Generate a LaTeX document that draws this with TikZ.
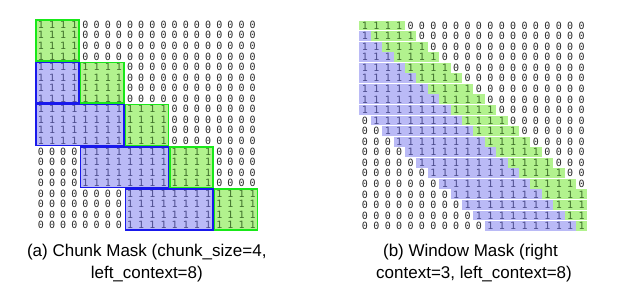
\documentclass[tikz,border=0pt]{standalone}
\usepackage{fontspec}
\setmainfont{Liberation Sans}
\newfontfamily\digitfont{DejaVu Sans Mono}
\definecolor{bfill}{RGB}{186,186,246}
\definecolor{gfill}{RGB}{178,242,142}
\definecolor{bline}{RGB}{25,25,235}
\definecolor{gline}{RGB}{25,232,25}
\definecolor{bdig}{RGB}{75,75,140}
\definecolor{gdig}{RGB}{62,112,42}
\definecolor{zdig}{RGB}{40,40,40}
\tikzset{
  digit/.style={inner sep=0pt, anchor=center, font=\digitfont\fontsize{10}{11}\selectfont},
  bluebox/.style={draw=bline, line width=1.5pt},
  greenbox/.style={draw=gline, line width=1.5pt},
  caption/.style={anchor=base, inner sep=0pt, font=\fontsize{17}{20}\selectfont}
}
\begin{document}
\begin{tikzpicture}[x=1pt,y=-1pt]
\useasboundingbox (0,0) rectangle (623,291);
\fill[white] (0,0) rectangle (623,291);
% ---------- (a) chunk mask ----------
\def\LX{35.3}\def\LW{11.15}\def\LY{19.5}\def\LH{10.55}
\foreach \ra/\ca/\rb/\cb in {4/0/8/4, 8/0/12/8, 12/4/16/12, 16/8/20/16}
  \fill[bfill] ({\LX+\LW*\ca},{\LY+\LH*\ra}) rectangle ({\LX+\LW*\cb},{\LY+\LH*\rb});
\foreach \k in {0,...,4}
  \fill[gfill] ({\LX+\LW*4*\k},{\LY+\LH*4*\k}) rectangle ({\LX+\LW*4*(\k+1)},{\LY+\LH*4*(\k+1)});
\foreach \i in {0,...,19}{
  \foreach \j in {0,...,19}{
    \pgfmathtruncatemacro\r{floor(\i/4)}
    \pgfmathtruncatemacro\c{floor(\j/4)}
    \pgfmathtruncatemacro\kind{(\c==\r) ? 2 : ((\c<\r && \c>=\r-2) ? 1 : 0)}
    \ifcase\kind\def\dc{zdig}\or\def\dc{bdig}\or\def\dc{gdig}\fi
    \node[digit, text=\dc] (L-\i-\j) at ({\LX+\LW*(\j+0.5)},{\LY+\LH*(\i+0.5)}) {\ifnum\kind=0 0\else 1\fi};
  }
}
\foreach \ra/\ca/\rb/\cb in {4/0/8/4, 8/0/12/8, 12/4/16/12, 16/8/20/16}
  \draw[bluebox] ({\LX+\LW*\ca+0.75},{\LY+\LH*\ra+0.75}) rectangle ({\LX+\LW*\cb-0.75},{\LY+\LH*\rb-0.75});
\foreach \k in {0,...,4}
  \draw[greenbox] ({\LX+\LW*4*\k+0.75},{\LY+\LH*4*\k+0.75}) rectangle ({\LX+\LW*4*(\k+1)-0.75},{\LY+\LH*4*(\k+1)-0.75});
% ---------- (b) window mask ----------
\def\RX{359.3}\def\RW{11.4}\def\RY{20.3}\def\RH{10.55}
\foreach \i in {0,...,19}{
  \pgfmathtruncatemacro\bs{max(0,\i-8)}
  \pgfmathtruncatemacro\ge{min(20,\i+4)}
  \ifnum\i>0
    \fill[bfill] ({\RX+\RW*\bs},{\RY+\RH*\i+0.35}) rectangle ({\RX+\RW*\i},{\RY+\RH*(\i+1)-0.35});
  \fi
  \fill[gfill] ({\RX+\RW*\i},{\RY+\RH*\i+0.35}) rectangle ({\RX+\RW*\ge},{\RY+\RH*(\i+1)-0.35});
}
\foreach \i in {0,...,19}{
  \foreach \j in {0,...,19}{
    \pgfmathtruncatemacro\kind{(\j>=\i && \j<=\i+3) ? 2 : ((\j<\i && \j>=\i-8) ? 1 : 0)}
    \ifcase\kind\def\dc{zdig}\or\def\dc{bdig}\or\def\dc{gdig}\fi
    \node[digit, text=\dc] (R-\i-\j) at ({\RX+\RW*(\j+0.5)},{\RY+\RH*(\i+0.5)}) {\ifnum\kind=0 0\else 1\fi};
  }
}
% ---------- captions ----------
\node[caption] (capA1) at (146.8,256) {(a) Chunk Mask (chunk\_size=4,};
\node[caption] (capA2) at (146.8,278) {left\_context=8)};
\node[caption] (capB1) at (470.5,256) {(b) Window Mask (right};
\node[caption] (capB2) at (474,278) {context=3, left\_context=8)};
\end{tikzpicture}
\end{document}
